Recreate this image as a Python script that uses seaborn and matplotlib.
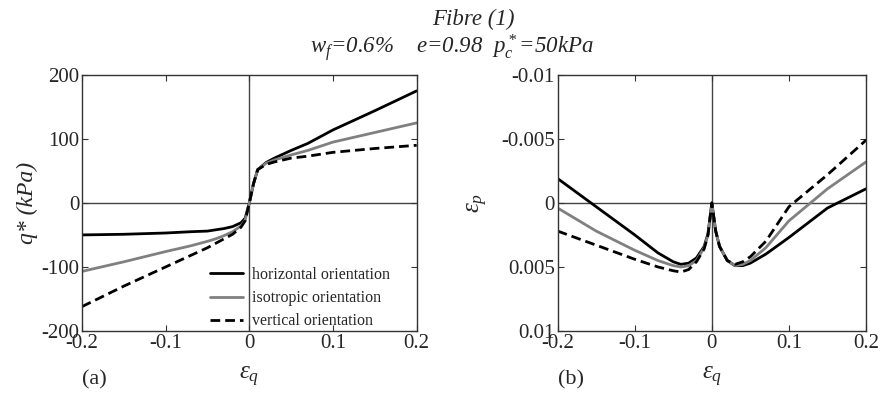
import seaborn as sns
import pandas as pd
import matplotlib.pyplot as plt

sns.set_theme(style="ticks")
plt.rcParams['font.family'] = ['Liberation Serif', 'DejaVu Serif']
plt.rcParams['mathtext.fontset'] = 'custom'
plt.rcParams['mathtext.it'] = 'Liberation Serif:italic'
plt.rcParams['mathtext.rm'] = 'Liberation Serif:italic'
plt.rcParams['axes.unicode_minus'] = False

# shear strain eps_q
eps_q = [-0.2, -0.15, -0.1, -0.07, -0.05, -0.04, -0.03, -0.02, -0.01, -0.005, 0,
         0.005, 0.01, 0.02, 0.03, 0.04, 0.05, 0.07, 0.1, 0.15, 0.2]

# deviator stress q* (kPa)
q_horizontal = [-50, -49, -47, -45, -44, -42, -40, -37, -31, -24, 0,
                30, 52, 63, 70, 76, 82, 93, 114, 144, 175]
q_isotropic = [-107, -92, -76, -67, -60, -56, -51, -45, -36, -27, 0,
               30, 52, 62, 67, 71, 75, 82, 95, 110, 125]
q_vertical = [-162, -130, -100, -82, -70, -63, -56, -49, -38, -28, 0,
              30, 52, 60, 64, 67, 70, 73, 79, 85, 90]

# volumetric strain eps_p
p_horizontal = [-0.0019, 0.0003, 0.0025, 0.0039, 0.0046, 0.0048, 0.0047, 0.0043, 0.0034, 0.0024, 0.0,
                0.0022, 0.0034, 0.0045, 0.0049, 0.0049, 0.0047, 0.0040, 0.0027, 0.0004, -0.0011]
p_isotropic = [0.0004, 0.0022, 0.0037, 0.0045, 0.0049, 0.0050, 0.0049, 0.0045, 0.0035, 0.0025, 0.0,
               0.0022, 0.0034, 0.0045, 0.0049, 0.0048, 0.0045, 0.0035, 0.0014, -0.0011, -0.0032]
p_vertical = [0.0022, 0.0033, 0.0044, 0.0050, 0.0053, 0.0054, 0.0052, 0.0046, 0.0036, 0.0025, 0.0,
              0.0022, 0.0034, 0.0045, 0.0048, 0.0046, 0.0042, 0.0030, 0.0003, -0.0022, -0.0049]

labels = ['horizontal orientation', 'isotropic orientation', 'vertical orientation']

frames = []
for lab, q, p in zip(labels, [q_horizontal, q_isotropic, q_vertical],
                     [p_horizontal, p_isotropic, p_vertical]):
    frames.append(pd.DataFrame({'eps_q': eps_q, 'q': q, 'eps_p': p, 'case': lab}))
df = pd.concat(frames, ignore_index=True)

palette = {labels[0]: 'black', labels[1]: '#808080', labels[2]: 'black'}
dashes = {labels[0]: '', labels[1]: '', labels[2]: (3.5, 1.8)}

fig = plt.figure(figsize=(8.81, 3.94), dpi=100)
ax1 = fig.add_axes([0.093, 0.160, 0.380, 0.650])
ax2 = fig.add_axes([0.633, 0.160, 0.350, 0.650])

sns.lineplot(data=df, x='eps_q', y='q', hue='case', style='case', palette=palette,
             dashes=dashes, linewidth=2, ax=ax1, legend=True)
sns.lineplot(data=df, x='eps_q', y='eps_p', hue='case', style='case', palette=palette,
             dashes=dashes, linewidth=2, ax=ax2, legend=False)

for ax in (ax1, ax2):
    ax.axhline(0, color='#444444', lw=1, zorder=0)
    ax.axvline(0, color='#444444', lw=1, zorder=0)
    ax.set_xlim(-0.2, 0.2)
    ax.set_xticks([-0.2, -0.1, 0, 0.1, 0.2])
    ax.set_xticklabels(['-0.2', '-0.1', '0', '0.1', '0.2'])
    ax.tick_params(direction='in', top=True, right=True, length=4, width=0.8,
                   labelsize=15, pad=2, color='#333333')
    for s in ax.spines.values():
        s.set_color('#333333')
        s.set_linewidth(1)
    ax.set_xlabel(r'$\varepsilon_q$', fontsize=18, labelpad=9)

ax1.set_ylim(-200, 200)
ax1.set_yticks([-200, -100, 0, 100, 200])
ax1.set_yticklabels(['-200', '-100', '0', '100', '200'])
ax1.set_ylabel('q* (kPa)', fontstyle='italic', fontsize=17, labelpad=2)
leg = ax1.legend(loc='upper left', bbox_to_anchor=(0.382, 0.25), frameon=False,
                 fontsize=11.5, handlelength=2.1, handletextpad=0.55, labelspacing=0.45,
                 borderpad=0, borderaxespad=0)
ax1.text(-0.2, -276, '(a)', fontsize=16, ha='left', va='center')

ax2.set_ylim(0.01, -0.01)
ax2.set_yticks([-0.01, -0.005, 0, 0.005, 0.01])
ax2.set_yticklabels(['-0.01', '-0.005', '0', '0.005', '0.01'])
ax2.set_ylabel(r'$\varepsilon_p$', fontsize=18, labelpad=8)
ax2.text(-0.2, 0.0138, '(b)', fontsize=16, ha='left', va='center')

fig.text(0.537, 0.95, 'Fibre (1)', fontstyle='italic', fontsize=16.5, ha='center', va='center')
fig.text(0.513, 0.88, r'$w_f$=0.6%    $e$=0.98  $p^*_c$=50$kPa$', fontstyle='italic',
         fontsize=16.5, ha='center', va='center')

fig.savefig('out.png', dpi=100)
